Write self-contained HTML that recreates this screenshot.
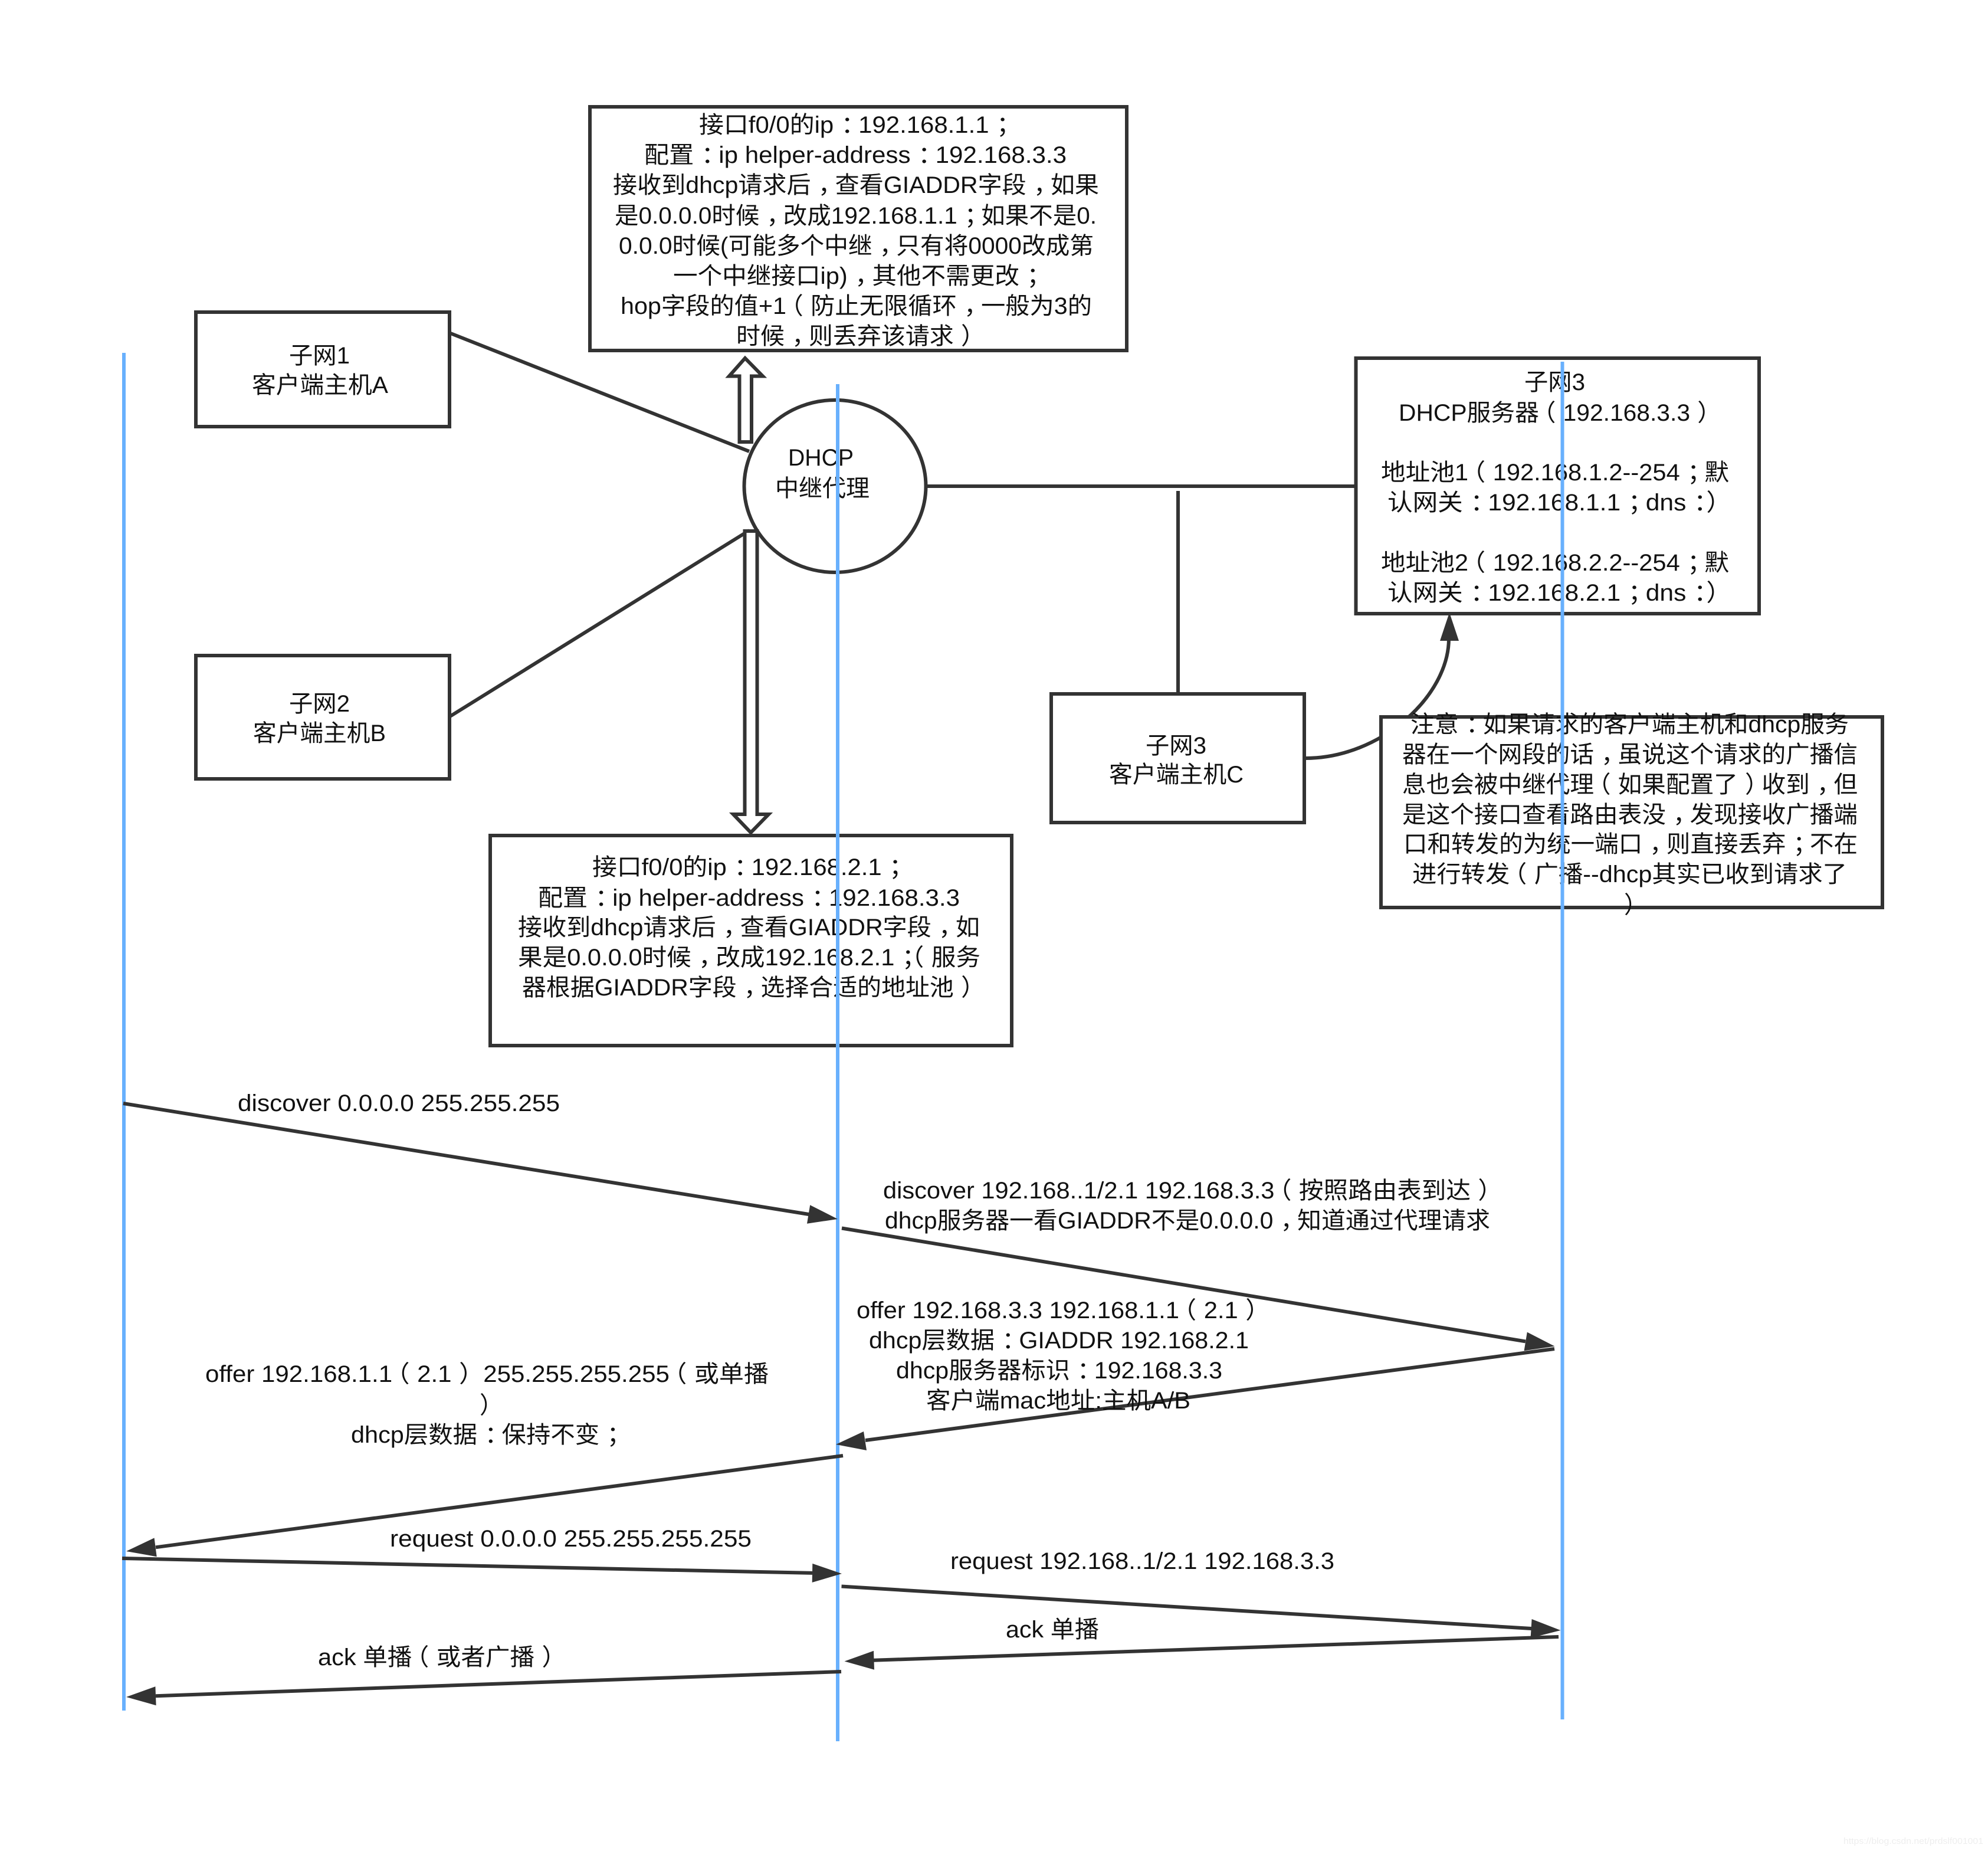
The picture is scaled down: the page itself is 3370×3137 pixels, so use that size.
<!DOCTYPE html>
<html>
<head>
<meta charset="utf-8">
<style>
html,body{margin:0;padding:0;background:#fff}
svg{display:block}
text{font-family:"Liberation Sans","Noto Sans CJK SC",sans-serif;font-size:40px;fill:#111}
.s{fill:none;stroke:#333;stroke-width:6}
.b{fill:#fff;stroke:#333;stroke-width:6}
.bl{stroke:#68b0fd;stroke-width:6}
.a{fill:#333;stroke:none}
.l{stroke:#333;stroke-width:6}
</style>
</head>
<body>
<svg xmlns="http://www.w3.org/2000/svg" width="3370" height="3137" viewBox="0 0 3370 3137">
<rect width="3370" height="3137" fill="#fff"/>

<!-- connectors -->
<line class="s" x1="759" y1="563" x2="1270" y2="765"/>
<line class="s" x1="763" y1="1214" x2="1270" y2="899"/>
<line class="s" x1="1570" y1="824" x2="2298" y2="824"/>
<line class="s" x1="1997" y1="832" x2="1997" y2="1176"/>
<path class="s" d="M2213 1285 C2340 1285 2456 1180 2456 1082"/>
<polygon class="a" points="2457,1038 2441,1086 2473,1086"/>

<!-- nodes -->
<rect class="b" x="332" y="529" width="430" height="194"/>
<rect class="b" x="332" y="1111" width="430" height="209"/>
<rect class="b" x="1000" y="181" width="910" height="413"/>
<rect class="b" x="2298.5" y="607" width="683.5" height="433"/>
<rect class="b" x="831" y="1416" width="884" height="356"/>
<rect class="b" x="1782" y="1176" width="429" height="218"/>
<rect class="b" x="2341" y="1215" width="850" height="323"/>
<ellipse class="b" cx="1415.5" cy="824" rx="154" ry="146"/>

<!-- block arrows -->
<path class="b" d="M1263 607 L1293 637.5 L1274 637.5 L1274 749 L1253.5 749 L1253.5 637.5 L1236 637.5 Z"/>
<path class="b" d="M1262.5 900 L1283.5 900 L1283.5 1380 L1303 1380 L1272.7 1411 L1243 1380 L1262.5 1380 Z"/>

<!-- box text -->
<text x="490" y="616" textLength="103" lengthAdjust="spacingAndGlyphs">子网1</text>
<text x="427" y="666" textLength="231" lengthAdjust="spacingAndGlyphs">客户端主机A</text>
<text x="490" y="1206" textLength="103" lengthAdjust="spacingAndGlyphs">子网2</text>
<text x="429" y="1256" textLength="225" lengthAdjust="spacingAndGlyphs">客户端主机B</text>
<text x="1942" y="1277" textLength="103" lengthAdjust="spacingAndGlyphs">子网3</text>
<text x="1880" y="1326" textLength="228" lengthAdjust="spacingAndGlyphs">客户端主机C</text>
<text x="1336" y="789" textLength="111" lengthAdjust="spacingAndGlyphs">DHCP</text>
<text x="1314" y="841" textLength="160" lengthAdjust="spacingAndGlyphs">中继代理</text>

<text x="1185" y="225" textLength="546" lengthAdjust="spacingAndGlyphs">接口f0/0的ip<tspan dx="12">：</tspan><tspan dx="-12">1</tspan>92.168.1.1<tspan dx="12">；</tspan></text>
<text x="1092" y="276" textLength="716" lengthAdjust="spacingAndGlyphs">配置<tspan dx="12">：</tspan><tspan dx="-12">i</tspan>p helper-address<tspan dx="12">：</tspan><tspan dx="-12">1</tspan>92.168.3.3</text>
<text x="1039" y="327" textLength="824" lengthAdjust="spacingAndGlyphs">接收到dhcp请求后<tspan dx="12">，</tspan><tspan dx="-12">查</tspan>看GIADDR字段<tspan dx="12">，</tspan><tspan dx="-12">如</tspan>果</text>
<text x="1042" y="379" textLength="817" lengthAdjust="spacingAndGlyphs">是0.0.0.0时候<tspan dx="12">，</tspan><tspan dx="-12">改</tspan>成192.168.1.1<tspan dx="12">；</tspan><tspan dx="-12">如</tspan>果不是0.</text>
<text x="1049" y="430" textLength="805" lengthAdjust="spacingAndGlyphs">0.0.0时候(可能多个中继<tspan dx="12">，</tspan><tspan dx="-12">只</tspan>有将0000改成第</text>
<text x="1141" y="481" textLength="641" lengthAdjust="spacingAndGlyphs">一个中继接口ip)<tspan dx="12">，</tspan><tspan dx="-12">其</tspan>他不需更改<tspan dx="12">；</tspan></text>
<text x="1052" y="532" textLength="799" lengthAdjust="spacingAndGlyphs">hop字段的值+1<tspan dx="-12">（</tspan><tspan dx="12">防</tspan>止无限循环<tspan dx="12">，</tspan><tspan dx="-12">一</tspan>般为3的</text>
<text x="1248" y="583" textLength="422" lengthAdjust="spacingAndGlyphs">时候<tspan dx="12">，</tspan><tspan dx="-12">则</tspan>丢弃该请求<tspan dx="12">）</tspan></text>

<text x="1004" y="1483" textLength="545" lengthAdjust="spacingAndGlyphs">接口f0/0的ip<tspan dx="12">：</tspan><tspan dx="-12">1</tspan>92.168.2.1<tspan dx="12">；</tspan></text>
<text x="912" y="1535" textLength="715" lengthAdjust="spacingAndGlyphs">配置<tspan dx="12">：</tspan><tspan dx="-12">i</tspan>p helper-address<tspan dx="12">：</tspan><tspan dx="-12">1</tspan>92.168.3.3</text>
<text x="878" y="1585" textLength="783" lengthAdjust="spacingAndGlyphs">接收到dhcp请求后<tspan dx="12">，</tspan><tspan dx="-12">查</tspan>看GIADDR字段<tspan dx="12">，</tspan><tspan dx="-12">如</tspan></text>
<text x="878" y="1636" textLength="784" lengthAdjust="spacingAndGlyphs">果是0.0.0.0时候<tspan dx="12">，</tspan><tspan dx="-12">改</tspan>成192.168.2.1<tspan dx="12">；</tspan><tspan dx="-24">（</tspan><tspan dx="12">服</tspan>务</text>
<text x="885" y="1687" textLength="785" lengthAdjust="spacingAndGlyphs">器根据GIADDR字段<tspan dx="12">，</tspan><tspan dx="-12">选</tspan>择合适的地址池<tspan dx="12">）</tspan></text>

<text x="2584" y="661" textLength="103" lengthAdjust="spacingAndGlyphs">子网3</text>
<text x="2371" y="713" textLength="547" lengthAdjust="spacingAndGlyphs">DHCP服务器<tspan dx="-12">（</tspan><tspan dx="12">1</tspan>92.168.3.3<tspan dx="12">）</tspan></text>
<text x="2341" y="814" textLength="590" lengthAdjust="spacingAndGlyphs">地址池1<tspan dx="-12">（</tspan><tspan dx="12">1</tspan>92.168.1.2--254<tspan dx="12">；</tspan><tspan dx="-12">默</tspan></text>
<text x="2352" y="865" textLength="583" lengthAdjust="spacingAndGlyphs">认网关<tspan dx="12">：</tspan><tspan dx="-12">1</tspan>92.168.1.1<tspan dx="12">；</tspan><tspan dx="-12">d</tspan>ns<tspan dx="12">：</tspan>）</text>
<text x="2341" y="967" textLength="590" lengthAdjust="spacingAndGlyphs">地址池2<tspan dx="-12">（</tspan><tspan dx="12">1</tspan>92.168.2.2--254<tspan dx="12">；</tspan><tspan dx="-12">默</tspan></text>
<text x="2352" y="1018" textLength="583" lengthAdjust="spacingAndGlyphs">认网关<tspan dx="12">：</tspan><tspan dx="-12">1</tspan>92.168.2.1<tspan dx="12">；</tspan><tspan dx="-12">d</tspan>ns<tspan dx="12">：</tspan>）</text>

<text x="2391" y="1241" textLength="743" lengthAdjust="spacingAndGlyphs">注意<tspan dx="12">：</tspan><tspan dx="-12">如</tspan>果请求的客户端主机和dhcp服务</text>
<text x="2377" y="1292" textLength="772" lengthAdjust="spacingAndGlyphs">器在一个网段的话<tspan dx="12">，</tspan><tspan dx="-12">虽</tspan>说这个请求的广播信</text>
<text x="2377" y="1343" textLength="772" lengthAdjust="spacingAndGlyphs">息也会被中继代理<tspan dx="-12">（</tspan><tspan dx="12">如</tspan>果配置了<tspan dx="12">）</tspan><tspan dx="-12">收</tspan>到<tspan dx="12">，</tspan><tspan dx="-12">但</tspan></text>
<text x="2377" y="1394" textLength="772" lengthAdjust="spacingAndGlyphs">是这个接口查看路由表没<tspan dx="12">，</tspan><tspan dx="-12">发</tspan>现接收广播端</text>
<text x="2379" y="1444" textLength="770" lengthAdjust="spacingAndGlyphs">口和转发的为统一端口<tspan dx="12">，</tspan><tspan dx="-12">则</tspan>直接丢弃<tspan dx="12">；</tspan><tspan dx="-12">不</tspan>在</text>
<text x="2394" y="1495" textLength="737" lengthAdjust="spacingAndGlyphs">进行转发<tspan dx="-12">（</tspan><tspan dx="12">广</tspan>播--dhcp其实已收到请求了</text>
<text x="2753" y="1547">）</text>

<!-- lifelines -->
<line class="bl" x1="210" y1="598" x2="210" y2="2899"/>
<line class="bl" x1="1420" y1="651" x2="1420" y2="2951"/>
<line class="bl" x1="2648.5" y1="613" x2="2648.5" y2="2914"/>

<!-- sequence arrows -->
<line class="l" x1="209" y1="1870" x2="1371" y2="2058"/>
<polygon class="a" points="1420,2066 1368,2073.8 1373.2,2042.2"/>
<line class="l" x1="1427" y1="2081.5" x2="2586" y2="2273.4"/>
<polygon class="a" points="2635.5,2281.6 2583.6,2289.2 2588.8,2257.6"/>
<line class="l" x1="2635" y1="2286" x2="1467" y2="2441"/>
<polygon class="a" points="1417,2448 1469,2458 1464,2426"/>
<line class="l" x1="1429" y1="2467" x2="264" y2="2622.3"/>
<polygon class="a" points="214,2629 265.7,2638.2 261.5,2606.4"/>
<line class="l" x1="207" y1="2641" x2="1377" y2="2665.9"/>
<polygon class="a" points="1427,2667 1376.7,2681.9 1377.3,2649.9"/>
<line class="l" x1="1426.5" y1="2688.5" x2="2596" y2="2760"/>
<polygon class="a" points="2645.5,2763 2594.6,2776 2596.6,2744"/>
<line class="l" x1="2642" y1="2774" x2="1481" y2="2813.8"/>
<polygon class="a" points="1431.5,2815.5 1482,2829.8 1481,2797.8"/>
<line class="l" x1="1426" y1="2833" x2="264" y2="2874.2"/>
<polygon class="a" points="214,2876 264.6,2890.2 263.4,2858.2"/>

<!-- sequence labels -->
<text x="403" y="1883" textLength="546" lengthAdjust="spacingAndGlyphs">discover 0.0.0.0 255.255.255</text>
<text x="1497" y="2031" textLength="1050" lengthAdjust="spacingAndGlyphs">discover 192.168..1/2.1 192.168.3.3<tspan dx="-12">（</tspan><tspan dx="12">按</tspan>照路由表到达<tspan dx="12">）</tspan></text>
<text x="1500" y="2082" textLength="1026" lengthAdjust="spacingAndGlyphs">dhcp服务器一看GIADDR不是0.0.0.0<tspan dx="12">，</tspan><tspan dx="-12">知</tspan>道通过代理请求</text>
<text x="1452" y="2234" textLength="701" lengthAdjust="spacingAndGlyphs">offer 192.168.3.3 192.168.1.1<tspan dx="-12">（</tspan><tspan dx="12">2</tspan>.1<tspan dx="12">）</tspan></text>
<text x="1473" y="2285" textLength="644" lengthAdjust="spacingAndGlyphs">dhcp层数据<tspan dx="12">：</tspan><tspan dx="-12">G</tspan>IADDR 192.168.2.1</text>
<text x="1519" y="2336" textLength="553" lengthAdjust="spacingAndGlyphs">dhcp服务器标识<tspan dx="12">：</tspan><tspan dx="-12">1</tspan>92.168.3.3</text>
<text x="1570" y="2387" textLength="448" lengthAdjust="spacingAndGlyphs">客户端mac地址:主机A/B</text>
<text x="348" y="2342" textLength="955" lengthAdjust="spacingAndGlyphs">offer 192.168.1.1<tspan dx="-12">（</tspan><tspan dx="12">2</tspan>.1<tspan dx="12">）</tspan><tspan dx="-12"> </tspan>255.255.255.255<tspan dx="-12">（</tspan><tspan dx="12">或</tspan>单播</text>
<text x="813" y="2395">）</text>
<text x="595" y="2445" textLength="475" lengthAdjust="spacingAndGlyphs">dhcp层数据<tspan dx="12">：</tspan><tspan dx="-12">保</tspan>持不变<tspan dx="12">；</tspan></text>
<text x="661" y="2621" textLength="613" lengthAdjust="spacingAndGlyphs">request 0.0.0.0 255.255.255.255</text>
<text x="1611" y="2659" textLength="651" lengthAdjust="spacingAndGlyphs">request 192.168..1/2.1 192.168.3.3</text>
<text x="1705" y="2775" textLength="158" lengthAdjust="spacingAndGlyphs">ack 单播</text>
<text x="539" y="2822" textLength="421" lengthAdjust="spacingAndGlyphs">ack 单播<tspan dx="-12">（</tspan><tspan dx="12">或</tspan>者广播<tspan dx="12">）</tspan></text>

<text x="3125" y="3125" textLength="237" lengthAdjust="spacingAndGlyphs" style="font-size:15px;fill:#eeeeee">https://blog.csdn.net/prdslf001001</text>
</svg>
</body>
</html>
